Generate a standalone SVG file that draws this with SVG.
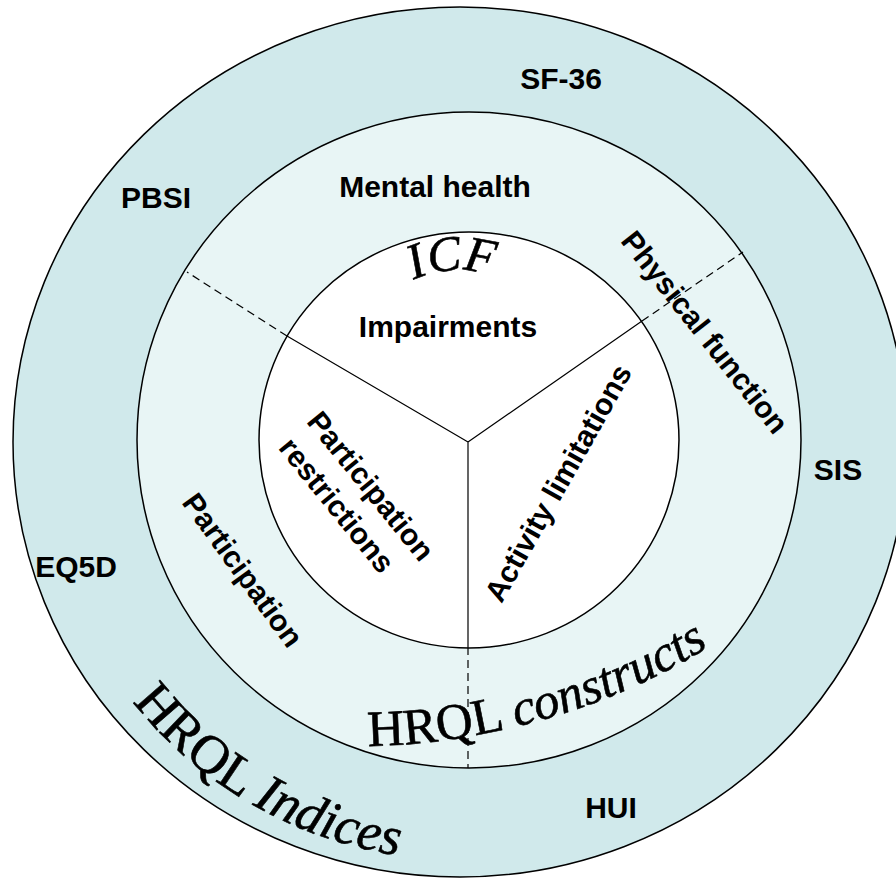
<svg xmlns="http://www.w3.org/2000/svg" width="896" height="878" viewBox="0 0 896 878">
<style>
.ring{stroke:#000;stroke-width:1.5}
.lab{font-family:"Liberation Sans",Arial,sans-serif;font-weight:bold;font-size:30px;fill:#000}
.serif{font-family:"Liberation Serif","Times New Roman",serif;fill:#000;stroke:#000;stroke-width:0.6}
.solid{stroke:#000;stroke-width:1.2;fill:none}
.dash{stroke:#000;stroke-width:1.2;fill:none;stroke-dasharray:8 5}
</style>
<defs>
<path id="pIndices" d="M 43.6 478.4 A 418 418 0 0 0 636.7 820.8"/>
<path id="pConstructs" d="M 368 746 C 460 745, 600 720, 726 636"/>
<path id="pICF" d="M 354.6 356.8 A 105 105 0 0 1 561.4 356.8"/>
</defs>
<rect width="896" height="878" fill="#fff"/>
<g id="outer-ring">
<ellipse class="ring" cx="460" cy="442" rx="447" ry="435" fill="#D0E9EB"/>
</g>
<g id="middle-ring">
<ellipse class="ring" cx="469" cy="440" rx="332" ry="328" fill="#E8F5F5"/>
</g>
<g id="inner-circle">
<ellipse class="ring" cx="469" cy="440" rx="210" ry="208" fill="#fff"/>
</g>
<g id="connectors">
<path class="solid" d="M 468 442 L 468 647 M 468 442 L 287 336 M 468 442 L 642 321"/>
<path class="dash" d="M 468 647 L 468 768 M 287 336 L 187 272 M 642 321 L 743 252"/>
</g>
<g id="indices">
<text class="lab" x="561" y="89" text-anchor="middle">SF-36</text>
<text class="lab" x="156" y="208" text-anchor="middle">PBSI</text>
<text class="lab" x="838" y="480" text-anchor="middle">SIS</text>
<text class="lab" x="76" y="577" text-anchor="middle">EQ5D</text>
<text class="lab" x="611" y="818" text-anchor="middle">HUI</text>
<text class="serif" font-size="54"><textPath href="#pIndices" startOffset="401" text-anchor="middle">HRQL <tspan font-style="italic">Indices</tspan></textPath></text>
</g>
<g id="constructs">
<text class="lab" x="435" y="197" text-anchor="middle">Mental health</text>
<text class="lab" transform="translate(705 332) rotate(51.6)" text-anchor="middle" dy="0.35em">Physical function</text>
<text class="lab" transform="translate(243 570) rotate(54)" text-anchor="middle" dy="0.35em">Participation</text>
<text class="serif" font-size="51"><textPath href="#pConstructs">HRQL <tspan font-style="italic">constructs</tspan></textPath></text>
</g>
<g id="icf">
<text class="serif" font-size="50" font-style="italic"><textPath href="#pICF" startOffset="141" text-anchor="middle">ICF</textPath></text>
<text class="lab" x="448" y="337" text-anchor="middle">Impairments</text>
<text class="lab" transform="translate(558 483) rotate(-60.5)" text-anchor="middle" dy="0.35em">Activity limitations</text>
<text class="lab" transform="translate(371 486) rotate(51)" text-anchor="middle" dy="0.35em">Participation</text>
<text class="lab" transform="translate(337 505) rotate(51)" text-anchor="middle" dy="0.35em">restrictions</text>
</g>
</svg>
